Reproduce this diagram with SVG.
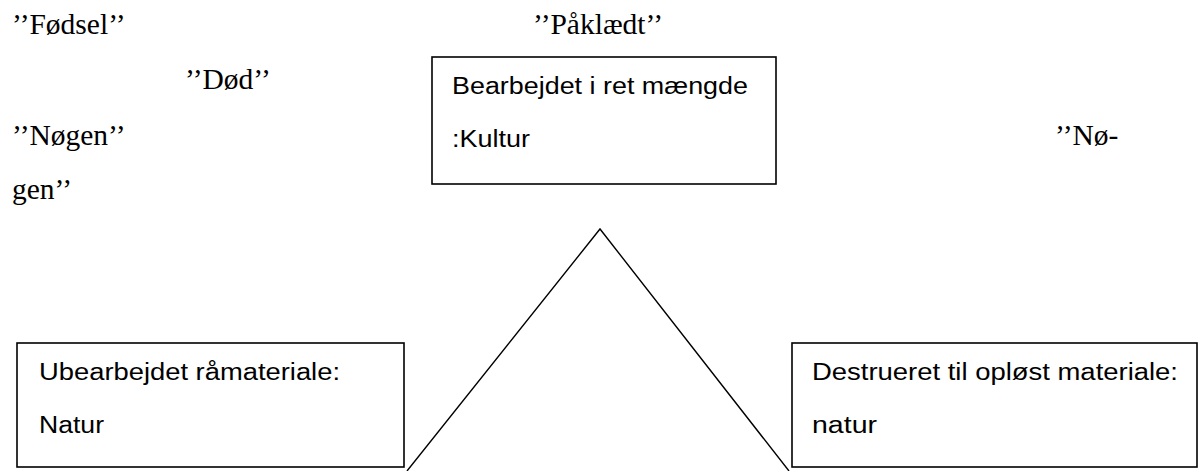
<svg xmlns="http://www.w3.org/2000/svg" width="1202" height="471" viewBox="0 0 1202 471">
<style>
.serif{font-family:"Liberation Serif","Times New Roman",serif;font-size:29.5px;fill:#000}
.sans{font-family:"Liberation Sans",Arial,sans-serif;font-size:23px;fill:#000}
.box{fill:#fff;stroke:#000;stroke-width:1.6}
.edge{fill:none;stroke:#000;stroke-width:1.4}
</style>
<rect width="1202" height="471" fill="#fff"/>
<g id="labels">
<text class="serif" x="12" y="34">’’Fødsel’’</text>
<text class="serif" x="185" y="89">’’Død’’</text>
<text class="serif" x="12" y="145">’’Nøgen’’</text>
<text class="serif" x="12" y="199">gen’’</text>
<text class="serif" x="533" y="34">’’Påklædt’’</text>
<text class="serif" x="1055" y="145">’’Nø-</text>
</g>
<g id="connectors">
<polyline class="edge" points="407,471 600,229 789,471"/>
</g>
<g id="kultur">
<rect class="box" x="432" y="57" width="344" height="127"/>
<text class="sans" x="452" y="94" textLength="296" lengthAdjust="spacingAndGlyphs">Bearbejdet i ret mængde</text>
<text class="sans" x="452" y="147" textLength="78" lengthAdjust="spacingAndGlyphs">:Kultur</text>
</g>
<g id="natur-left">
<rect class="box" x="17" y="343" width="387" height="124"/>
<text class="sans" x="39" y="380" textLength="301" lengthAdjust="spacingAndGlyphs">Ubearbejdet råmateriale:</text>
<text class="sans" x="39" y="433" textLength="65" lengthAdjust="spacingAndGlyphs">Natur</text>
</g>
<g id="natur-right">
<rect class="box" x="792" y="343" width="405" height="124"/>
<text class="sans" x="812" y="380" textLength="366" lengthAdjust="spacingAndGlyphs">Destrueret til opløst materiale:</text>
<text class="sans" x="812" y="433" textLength="65" lengthAdjust="spacingAndGlyphs">natur</text>
</g>
</svg>
